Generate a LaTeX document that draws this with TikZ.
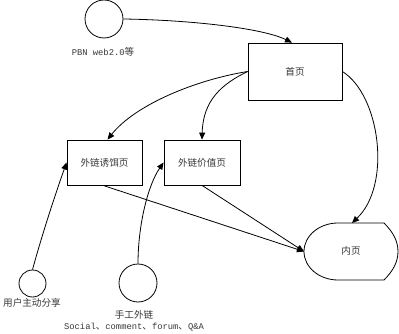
\documentclass[tikz,border=0pt]{standalone}
\usepackage{fontspec}
\setmainfont{Liberation Mono}
\newfontfamily\cjk{Noto Sans CJK SC}
\usetikzlibrary{arrows.meta}
\newcommand\zh[1]{{\cjk\fontsize{9.6}{11}\selectfont #1}}
\begin{document}
\begin{tikzpicture}[x=1pt,y=-1pt,line width=0.8pt,
  arr/.style={-{Triangle[length=7pt,width=6pt]}},
  circ/.style={draw,circle,inner sep=0pt},
  box/.style={draw,rectangle,inner sep=0pt},
  lbl/.style={text=black!78,inner sep=0pt,font=\fontsize{8.8}{10}\selectfont}]
\fill[white] (0,0) rectangle (399,334);
\useasboundingbox (0,0) rectangle (399,334);

% circles
\node[circ,minimum size=38pt] (pbn) at (104,19) {};
\node[circ,minimum size=27pt] (share) at (32.5,283.5) {};
\node[circ,minimum size=38pt] (craft) at (138,283) {};

% labels
\node[lbl] (pbnlbl) at (103,52) {PBN web2.0\zh{等}};
\node[lbl] (sharelbl) at (32,303) {\zh{用户主动分享}};
\node[lbl] (craftlbl) at (134,315) {\zh{手工外链}};
\node[lbl] (sociallbl) at (134,327) {Social\zh{、}comment\zh{、}forum\zh{、}Q\&A};

% boxes
\node[box,minimum width=94pt,minimum height=57pt,lbl,draw=black,text=black!78] (home) at (295,71.5) {\zh{首页}};
\node[box,minimum width=75pt,minimum height=45pt,lbl,draw=black,text=black!78] (bait) at (104.5,162.5) {\zh{外链诱饵页}};
\node[box,minimum width=76pt,minimum height=45pt,lbl,draw=black,text=black!78] (value) at (202,162.5) {\zh{外链价值页}};

% inner page (display shape)
\draw (338,223) -- (384,223)
  .. controls (393,232) and (398,241) .. (398,251.5)
  .. controls (398,262) and (393,271) .. (384,280)
  -- (338,280)
  .. controls (319.2,280) and (304,267.2) .. (304,251.5)
  .. controls (304,235.8) and (319.2,223) .. (338,223);
\coordinate (innerW) at (304,251.5);
\coordinate (innerN) at (352,223);
\node[lbl] (inner) at (351,251) {\zh{内页}};

% connectors
\draw[arr] (pbn.east) .. controls (190,20) and (262,28) .. ([xshift=-3pt]home.north);
\draw[arr] ([yshift=0pt]home.west) .. controls (195,80) and (135,105) .. ([xshift=3pt]bait.north);
\draw[arr] (home.west) .. controls (222,84) and (203,100) .. (value.north);
\draw[arr] (home.east) .. controls (380,95) and (392,185) .. (innerN);
\draw[arr] ([xshift=-1.5pt]bait.south) -- (innerW);
\draw[arr] (value.south) -- (innerW);
\draw[arr] (share.north) .. controls (42,235) and (55,195) .. (bait.west);
\draw[arr] (craft.north) .. controls (138,225) and (148,185) .. (value.west);
\end{tikzpicture}
\end{document}
